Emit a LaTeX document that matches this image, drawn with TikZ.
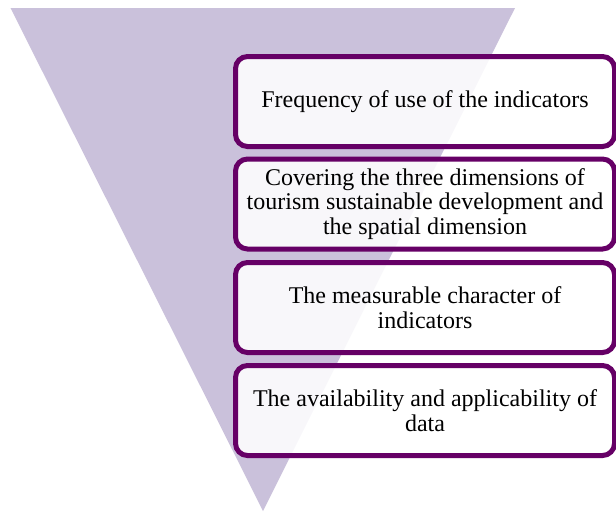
\documentclass[tikz,border=0pt]{standalone}
\usepackage{fontspec}
\setmainfont{Liberation Serif}
\definecolor{tri}{HTML}{CAC1DB}
\definecolor{bord}{HTML}{660066}
\begin{document}
\begin{tikzpicture}[x=1pt,y=-1pt,
  crit/.style={draw=bord, line width=5pt, rounded corners=12pt, fill=white, fill opacity=0.88, text opacity=1,
    minimum width=379pt, minimum height=90pt, align=center, inner sep=0pt,
    font=\fontsize{24}{24.5}\selectfont}]
\useasboundingbox (0,0) rectangle (616,512);
\begin{scope}
\clip (0,0) rectangle (616,512);
\fill[tri] (10.5,8) -- (515,8) -- (263,511) -- cycle;
\node[crit] (c1) at (425,101.5) {Frequency of use of the indicators};
\node[crit] (c2) at (425,204) {Covering the three dimensions of\\tourism sustainable development and\\the spatial dimension};
\node[crit] (c3) at (425,307.5) {The measurable character of\\indicators};
\node[crit] (c4) at (425,410.5) {The availability and applicability of\\data};
\end{scope}
\end{tikzpicture}
\end{document}
